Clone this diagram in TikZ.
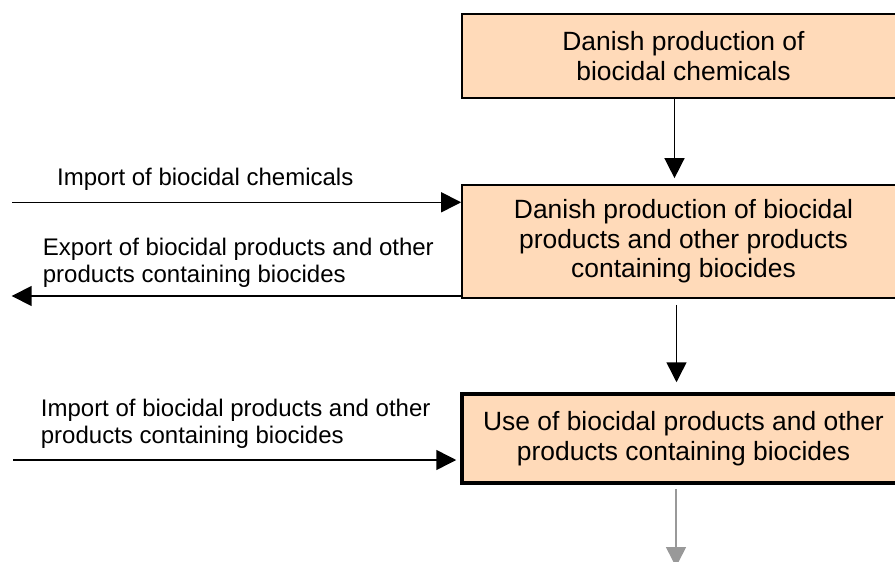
\documentclass[tikz,border=0pt]{standalone}
\usepackage{fontspec}
\setmainfont{Liberation Sans}
\usetikzlibrary{arrows.meta}
\tikzset{
  stage/.style={draw, line width=1.7pt, fill=peach, minimum width=443pt, inner sep=0pt, align=center, font=\fontsize{26.4}{29.5}\selectfont},
  flow/.style={-{Triangle[length=20pt, width=20pt]}, line width=1.5pt},
  side/.style={anchor=base west, inner sep=0pt, align=left, font=\fontsize{24}{27}\selectfont}
}
\definecolor{peach}{HTML}{FFDAB9}
\begin{document}
\begin{tikzpicture}[x=1pt, y=-1pt]
\useasboundingbox (0,0) rectangle (895,562);
\node[stage, minimum height=84pt] (chem) at (683.5,56) {Danish production of\\biocidal chemicals};
\node[stage, minimum height=113pt] (prod) at (683.5,241.5) {Danish production of biocidal\\products and other products\\containing biocides};
\node[stage, minimum height=89pt, line width=3.5pt] (use) at (683.5,438.5) {Use of biocidal products and other\\products containing biocides};
\coordinate (impchem) at (12,202.3);
\coordinate (exp) at (11.7,296);
\coordinate (impprod) at (13,460);
\coordinate (waste) at (676,567);
\draw[flow, shorten >=6pt] ([xshift=-9pt]chem.south) -- ([xshift=-9pt]prod.north);
\draw[flow, shorten <=6pt, shorten >=10pt] ([xshift=-7pt]prod.south) -- ([xshift=-7pt]use.north);
\draw[flow, gray!80, shorten <=4pt] (use.south -| waste) -- (waste);
\draw[flow] (impchem) -- (impchem -| prod.west);
\draw[flow] (exp -| prod.west) -- (exp);
\draw[flow, shorten >=4pt] (impprod) -- (impprod -| use.west);
\node[side] (impchemlbl) at (57,185) {Import of biocidal chemicals};
\node[side] (explbl) at (42.7,282) {Export of biocidal products and other\\products containing biocides};
\node[side] (impprodlbl) at (40.7,443) {Import of biocidal products and other\\products containing biocides};
\end{tikzpicture}
\end{document}
